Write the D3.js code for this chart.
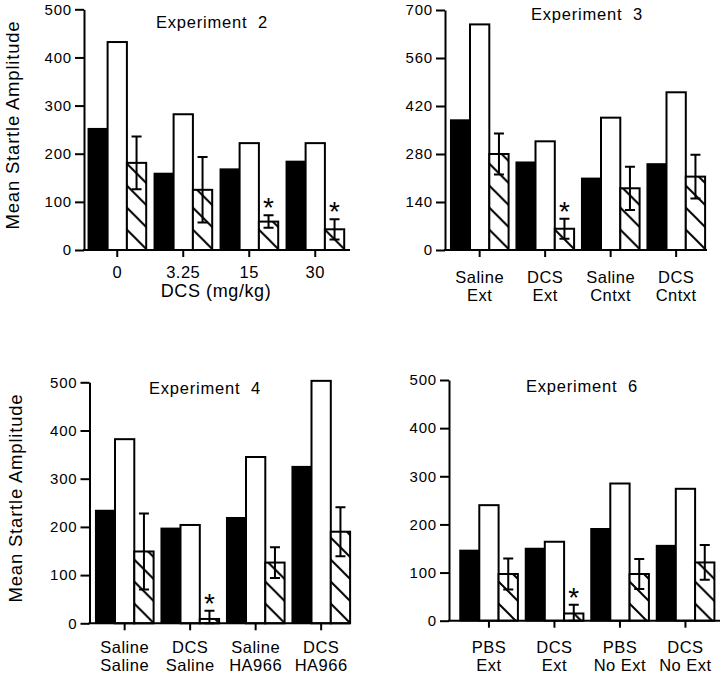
<!DOCTYPE html>
<html><head><meta charset="utf-8">
<script src="https://cdn.jsdelivr.net/npm/d3@7"></script>
<style>
html,body{margin:0;padding:0;background:#fff;}
svg text{font-family:"Liberation Sans",Arial,Helvetica,sans-serif;fill:#000;}
</style></head>
<body><svg id="chart" width="720" height="673"></svg>
<script>
// ---------- data ----------
const exp2Categories = ["0", "3.25", "15", "30"];
const exp2Solid   = [252, 159, 168, 184];
const exp2Open    = [432, 282, 222, 222];
const exp2Hatched = [181, 125, 59, 43];
const exp2Sem     = [55, 68, 13, 21];
const exp2Sig     = [false, false, true, true];
const exp2Ticks   = [0, 100, 200, 300, 400, 500];

const exp3Categories = ["Saline\nExt", "DCS\nExt", "Saline\nCntxt", "DCS\nCntxt"];
const exp3Solid   = [379, 256, 209, 251];
const exp3Open    = [658, 317, 386, 460];
const exp3Hatched = [280, 62, 180, 214];
const exp3Sem     = [60, 29, 63, 64];
const exp3Sig     = [false, true, false, false];
const exp3Ticks   = [0, 140, 280, 420, 560, 700];

const exp4Categories = ["Saline\nSaline", "DCS\nSaline", "Saline\nHA966", "DCS\nHA966"];
const exp4Solid   = [234, 197, 219, 325];
const exp4Open    = [382, 204, 345, 503];
const exp4Hatched = [149, 9, 126, 190];
const exp4Sem     = [79, 17, 32, 51];
const exp4Sig     = [false, true, false, false];
const exp4Ticks   = [0, 100, 200, 300, 400, 500];

const exp6Categories = ["PBS\nExt", "DCS\nExt", "PBS\nNo Ext", "DCS\nNo Ext"];
const exp6Solid   = [146, 150, 191, 156];
const exp6Open    = [240, 164, 285, 274];
const exp6Hatched = [97, 15, 97, 121];
const exp6Sem     = [32, 18, 31, 36];
const exp6Sig     = [false, true, false, false];
const exp6Ticks   = [0, 100, 200, 300, 400, 500];

const yLabel = "Mean Startle Amplitude";
const seriesKeys = ["solid", "open", "hatched"];

// ---------- layout ----------
const panels = [
  {title:"Experiment  2", cats:exp2Categories, solid:exp2Solid, open:exp2Open, hatched:exp2Hatched, sem:exp2Sem, sig:exp2Sig, ticks:exp2Ticks,
   left:84, right:350, yBottom:250, yTop:9.3, first:88.3, step:66, titleX:212, titleY:28, labelY:278, yLabel:true, yLabelX:18.5, yLabelY:125, xTitle:"DCS (mg/kg)"},
  {title:"Experiment  3", cats:exp3Categories, solid:exp3Solid, open:exp3Open, hatched:exp3Hatched, sem:exp3Sem, sig:exp3Sig, ticks:exp3Ticks,
   left:445, right:707, yBottom:250, yTop:10, first:450.7, step:65.5, titleX:587, titleY:20, labelY:282.5, yLabel:false},
  {title:"Experiment  4", cats:exp4Categories, solid:exp4Solid, open:exp4Open, hatched:exp4Hatched, sem:exp4Sem, sig:exp4Sig, ticks:exp4Ticks,
   left:89.5, right:350, yBottom:623.3, yTop:382.3, first:95.7, step:65.5, titleX:205, titleY:394, labelY:653.3, yLabel:true, yLabelX:22, yLabelY:498},
  {title:"Experiment  6", cats:exp6Categories, solid:exp6Solid, open:exp6Open, hatched:exp6Hatched, sem:exp6Sem, sig:exp6Sig, ticks:exp6Ticks,
   left:449, right:720, yBottom:620.7, yTop:380, first:460, step:65.5, titleX:582, titleY:392, labelY:653, yLabel:false}
];

const barW = 19.3;
const svg = d3.select("#chart");

const defs = svg.append("defs");
const pat = defs.append("pattern").attr("id","hatch").attr("patternUnits","userSpaceOnUse")
  .attr("width",22).attr("height",22);
pat.append("rect").attr("width",22).attr("height",22).attr("fill","#fff");
pat.append("path").attr("d","M-5,-5L27,27M-5,17L5,27M17,-5L27,5")
  .attr("stroke","#000").attr("stroke-width",2);

panels.forEach(p => {
  const g = svg.append("g");
  const y = d3.scaleLinear().domain([0, p.ticks[p.ticks.length-1]]).range([p.yBottom, p.yTop]);
  const pad = p.step/2 - 1.5*barW;
  const x = d3.scaleBand().domain(p.cats).range([p.first - pad, p.first - pad + p.step*p.cats.length]);
  const xs = d3.scaleBand().domain(seriesKeys).range([-1.5*barW, 1.5*barW]);
  const cx = c => x(c) + x.bandwidth()/2;

  const rows = p.cats.map((c,i) => ({cat:c, solid:p.solid[i], open:p.open[i], hatched:p.hatched[i], sem:p.sem[i], sig:p.sig[i]}));

  // bars
  const grp = g.selectAll("g.grp").data(rows).join("g").attr("class","grp")
    .attr("transform", d => `translate(${cx(d.cat)},0)`);
  grp.append("rect").attr("x", xs("solid")).attr("width", xs.bandwidth())
    .attr("y", d => y(d.solid)).attr("height", d => y(0) - y(d.solid))
    .attr("fill","#000").attr("stroke","#000").attr("stroke-width",1.5);
  grp.append("rect").attr("x", xs("open")).attr("width", xs.bandwidth())
    .attr("y", d => y(d.open)).attr("height", d => y(0) - y(d.open))
    .attr("fill","#fff").attr("stroke","#000").attr("stroke-width",2);
  grp.append("rect").attr("x", xs("hatched")).attr("width", xs.bandwidth())
    .attr("y", d => y(d.hatched)).attr("height", d => y(0) - y(d.hatched))
    .attr("fill","url(#hatch)").attr("stroke","#000").attr("stroke-width",2);

  // error bars
  const hx = xs("hatched") + xs.bandwidth()/2;
  const capW = 5;
  grp.append("path").attr("fill","none").attr("stroke","#000").attr("stroke-width",2)
    .attr("d", d => {
      const t = y(d.hatched + d.sem), b = y(Math.max(0, d.hatched - d.sem));
      return `M${hx},${t}V${b}M${hx-capW},${t}H${hx+capW}M${hx-capW},${b}H${hx+capW}`;
    });
  grp.filter(d => d.sig).append("text").attr("x", hx).attr("y", d => y(d.hatched + d.sem) + 2)
    .attr("text-anchor","middle").attr("font-size",28).text("*");

  // y axis
  const ya = g.append("g").attr("transform",`translate(${p.left},0)`)
    .call(d3.axisLeft(y).tickValues(p.ticks).tickSize(9).tickSizeOuter(0).tickPadding(3));
  ya.attr("font-family",null).attr("font-size",null);
  ya.selectAll("path,line").attr("stroke","#000").attr("stroke-width",2);
  ya.selectAll("text").attr("font-size",15).attr("letter-spacing",0.8).attr("fill","#000");

  // x axis
  g.append("line").attr("x1", p.left - 1).attr("x2", p.right).attr("y1", y(0)).attr("y2", y(0))
    .attr("stroke","#000").attr("stroke-width",2);
  g.selectAll("line.xt").data(p.cats).join("line").attr("class","xt")
    .attr("x1", cx).attr("x2", cx).attr("y1", y(0)).attr("y2", y(0) + 7)
    .attr("stroke","#000").attr("stroke-width",2);
  const lab = g.selectAll("text.xl").data(p.cats).join("text").attr("class","xl")
    .attr("text-anchor","middle").attr("font-size",16.5).attr("letter-spacing",0.5)
    .attr("y", p.labelY);
  lab.each(function(c){
    const parts = c.split("\n");
    const t = d3.select(this);
    parts.forEach((s,k) => t.append("tspan").attr("x", cx(c)).attr("dy", k===0 ? 0 : 18).text(s));
  });

  // title
  g.append("text").attr("x", p.titleX).attr("y", p.titleY).attr("text-anchor","middle")
    .attr("font-size",16.5).attr("letter-spacing",0.8).style("white-space","pre").text(p.title);

  if (p.xTitle) {
    g.append("text").attr("x", 216).attr("y", 297).attr("text-anchor","middle")
      .attr("font-size",18).attr("letter-spacing",0.6).text(p.xTitle);
  }
  if (p.yLabel) {
    g.append("text").attr("transform",`translate(${p.yLabelX},${p.yLabelY}) rotate(-90)`)
      .attr("text-anchor","middle").attr("font-size",18.5).attr("letter-spacing",0.8).text(yLabel);
  }
});
</script></body></html>
